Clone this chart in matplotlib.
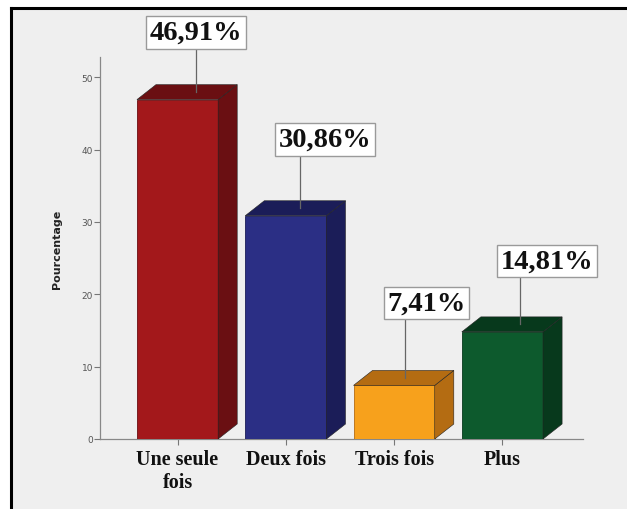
import matplotlib
matplotlib.use("Agg")
import matplotlib.pyplot as plt
from matplotlib.patches import Polygon

# ---- data ----
categories = ["Une seule\nfois", "Deux fois", "Trois fois", "Plus"]
values = [46.91, 30.86, 7.41, 14.81]
value_labels = ["46,91%", "30,86%", "7,41%", "14,81%"]
yticks = [0, 10, 20, 30, 40, 50]

# ---- styles / layout ----
front_colors = ["#a3181b", "#2b2f85", "#f7a11c", "#0d5a2d"]
dark_colors = ["#6a0f12", "#1b1d58", "#b46c12", "#07391c"]
box_x = [0.17, 1.365, 2.30, 3.41]
box_y = [56.2, 41.4, 18.8, 24.6]
leader_x = [0.17, 0.13, 0.10, 0.16]
bar_w = 0.75
dx, dy = 0.176, 2.07
bg = "#efefef"

fig = plt.figure(figsize=(6.27, 5.10), dpi=100, facecolor="white")

# background panel with black top/left border
bax = fig.add_axes([11/627, 0, 1 - 11/627, 1 - 9/510], zorder=-1)
bax.set_facecolor(bg)
bax.set_xticks([]); bax.set_yticks([])
for s in ["right", "bottom"]:
    bax.spines[s].set_visible(False)
for s in ["top", "left"]:
    bax.spines[s].set_color("black")
    bax.spines[s].set_linewidth(2.2)

ax = fig.add_axes([100/627, 70/510, 483/627, 382/510], zorder=1)
ax.set_facecolor("none")
x = list(range(len(values)))
ax.bar(x, values, width=bar_w, color=front_colors, zorder=3, linewidth=0.6,
       edgecolor=dark_colors)
for i, v in enumerate(values):
    x0, x1 = i - bar_w/2, i + bar_w/2
    side = Polygon([(x1, 0), (x1 + dx, dy), (x1 + dx, v + dy), (x1, v)],
                   closed=True, facecolor=dark_colors[i], edgecolor="#222222", lw=0.4, zorder=3)
    top = Polygon([(x0, v), (x0 + dx, v + dy), (x1 + dx, v + dy), (x1, v)],
                  closed=True, facecolor=dark_colors[i], edgecolor="#222222", lw=0.4, zorder=3)
    ax.add_patch(side)
    ax.add_patch(top)
    lx = i + leader_x[i]
    ax.plot([lx, lx], [v + dy/2, box_y[i]], color="#666666", lw=0.9, zorder=4, clip_on=False)
    ax.text(box_x[i], box_y[i], value_labels[i], ha="center", va="center",
            fontsize=20.5, fontweight="bold", family="Liberation Serif", color="#111111",
            zorder=6, clip_on=False,
            bbox=dict(boxstyle="square,pad=0.13", facecolor="white", edgecolor="#9a9a9a", lw=1))

ax.set_xlim(-0.716, 3.744)
ax.set_ylim(0, 52.8)
ax.set_yticks(yticks)
ax.set_yticklabels([str(t) for t in yticks], fontsize=6.5, color="#555555")
ax.set_xticks(x)
ax.set_xticklabels(categories, fontsize=14.5, fontweight="bold", family="Liberation Serif",
                   color="#111111", linespacing=1.2)
ax.tick_params(axis="y", length=4, color="#777777", width=0.8, pad=1)
ax.tick_params(axis="x", length=4, color="#777777", width=0.8, pad=3)
for s in ["top", "right"]:
    ax.spines[s].set_visible(False)
for s in ["left", "bottom"]:
    ax.spines[s].set_color("#888888")
    ax.spines[s].set_linewidth(0.9)
ax.set_ylabel("Pourcentage", fontsize=8, fontweight="bold", color="#222222")
ax.yaxis.set_label_coords(-0.079, 0.5)

fig.savefig("out.png", dpi=100, facecolor=fig.get_facecolor())
